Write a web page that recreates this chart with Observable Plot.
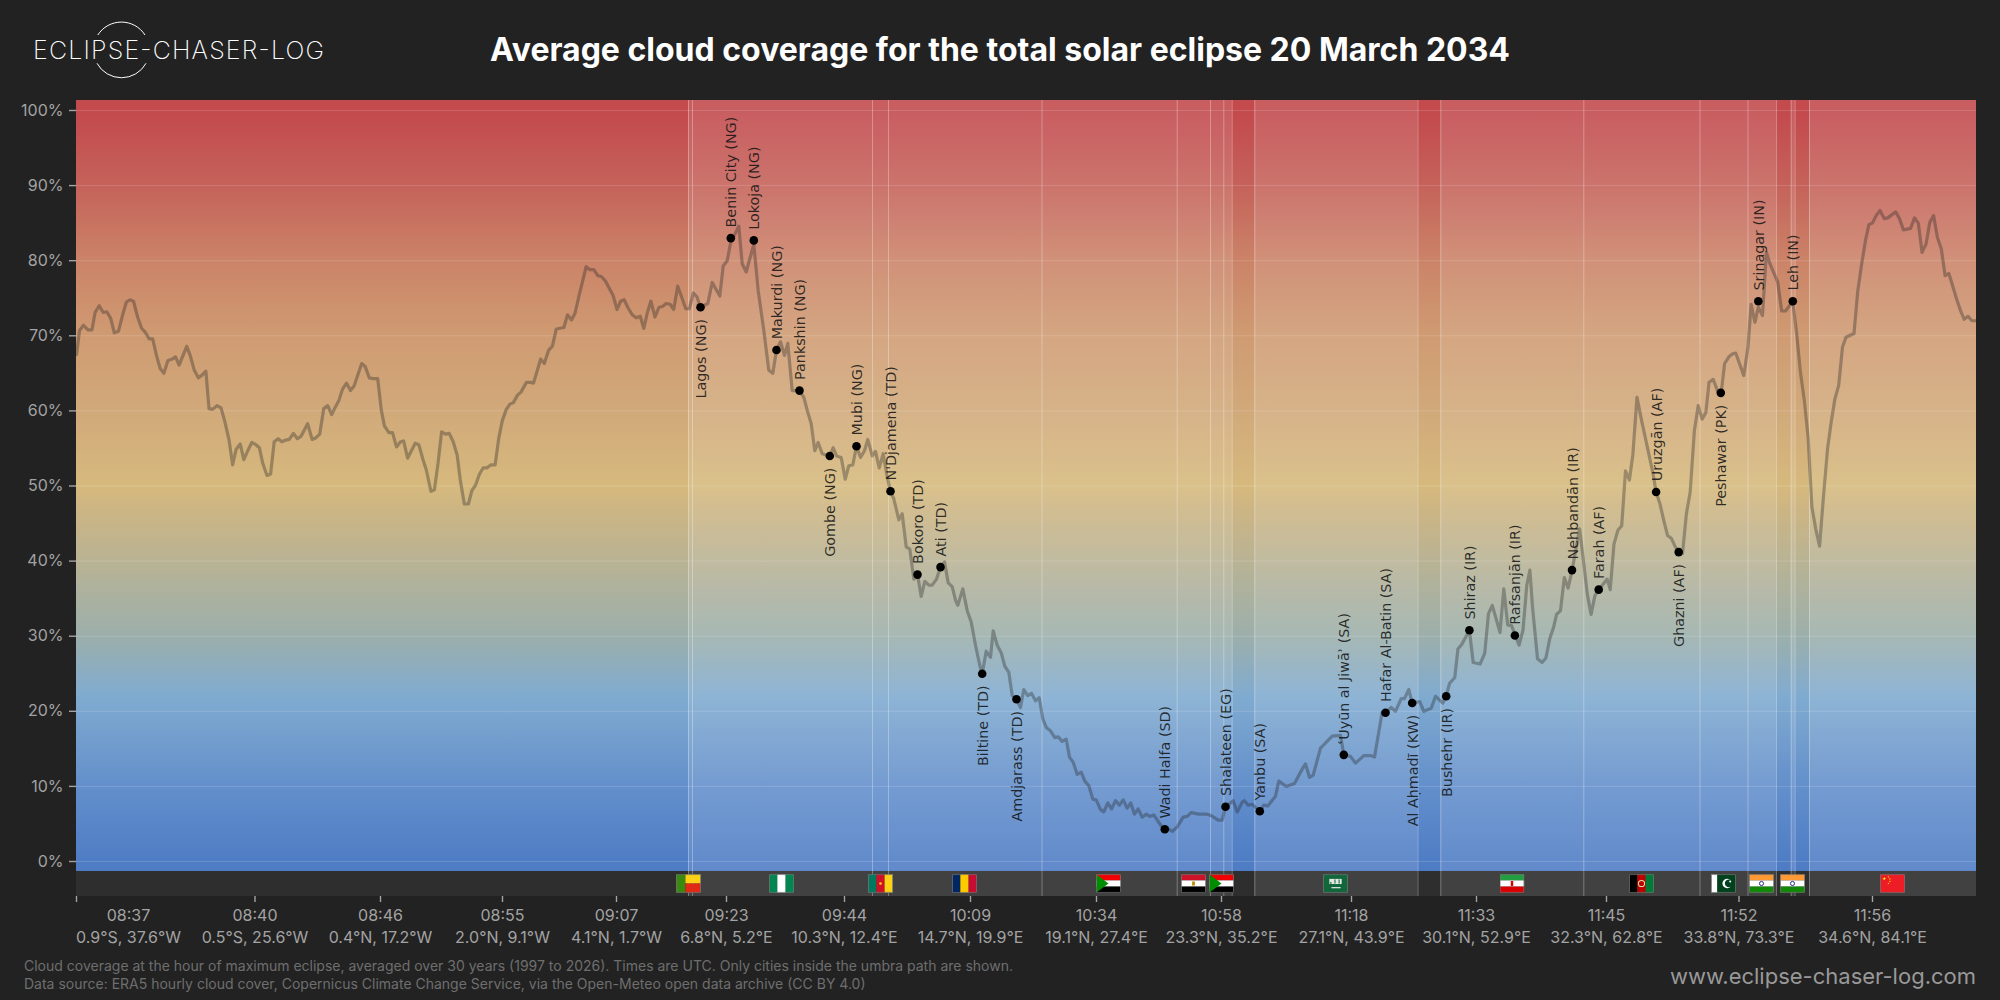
<!DOCTYPE html>
<html>
<head>
<meta charset="utf-8">
<script src="https://cdn.jsdelivr.net/npm/d3@7"></script>
<script src="https://cdn.jsdelivr.net/npm/@observablehq/plot@0.6"></script>
<style>
  html, body { margin: 0; padding: 0; background: #222222; width: 2000px; height: 1000px; overflow: hidden; }
  body { position: relative; font-family: Inter, "Liberation Sans", sans-serif; }
  #header { position: absolute; left: 0; top: 0; width: 2000px; height: 100px; }
  #logo { position: absolute; left: 0; top: 0; }
  h1 { position: absolute; left: 0; top: 0; width: 2000px; margin: 0; line-height: 100px; text-align: center; color: #fff; font-size: 32px; font-weight: 700; }
  #chart { position: absolute; left: 0; top: 100px; }
  #chart svg { display: block; }
  #caption { position: absolute; left: 24px; top: 957px; color: #6e6e6e; font-size: 14px; line-height: 18px; }
  #site { position: absolute; right: 24px; top: 962px; color: #999; font-size: 22px; line-height: 28px; }
</style>
</head>
<body>
<div id="header">
  <svg id="logo" width="400" height="100">
    <path d="M97.8 35 A28 28 0 0 1 145 35 M97 63.3 A28 28 0 0 0 146 63.3" fill="none" stroke="#fff" stroke-width="1"/>
    <text x="33" y="59" fill="#fff" font-family="Inter" font-weight="200" font-size="25" textLength="291" lengthAdjust="spacing">ECLIPSE-CHASER-LOG</text>
  </svg>
  <h1>Average cloud coverage for the total solar eclipse 20 March 2034</h1>
</div>
<div id="chart"></div>
<div id="caption">Cloud coverage at the hour of maximum eclipse, averaged over 30 years (1997 to 2026). Times are UTC. Only cities inside the umbra path are shown.<br>Data source: ERA5 hourly cloud cover, Copernicus Climate Change Service, via the Open-Meteo open data archive (CC BY 4.0)</div>
<div id="site">www.eclipse-chaser-log.com</div>
<script>
// Track position along the eclipse path, and mean cloud cover (%)
const traceAtlantic = [[0,67.5],[3,70.7],[7,71.4],[11.5,70.8],[15.5,70.8],[18.6,73.1],[22.7,74],[26.7,73.1],[30.3,73.2],[34.3,72.3],[37.8,70.4],[41.9,70.6],[46.8,73.1],[49.9,74.5],[53.5,74.8],[57,74.6],[61.1,72.5],[65.1,71],[68.6,70.5],[72.7,69.6],[76.2,69.6],[80.3,67.2],[83.8,65.6],[87.4,65],[91.4,66.7],[95.9,66.9],[99,67.2],[102.6,66.1],[110.2,68.6],[113.7,67.4],[117.8,65.4],[121.8,64.4],[125.8,64.8],[129.4,65.3],[132.5,60.3],[136.1,60.2],[140.5,60.7],[144.5,60.4],[148.1,58.7],[152.6,56.1],[156.1,52.8],[159.7,54.9],[163.7,55.6],[167.3,53.5],[171.3,54.7],[175.3,55.8],[179.4,55.5],[182.9,55.1],[186.1,53.1],[190.5,51.4],[194.1,51.6],[197.7,55.9],[201.7,56.3],[205.3,55.9],[208.8,56.1],[212.8,56.2],[216.9,57],[220.9,56.3],[224.4,56.6],[231.1,58.3],[235.6,56.2],[239.2,56.4],[243.2,56.9],[247.2,60.3],[251.2,60.7],[255.2,59.5],[258.8,60.5],[262.4,61.4],[266,62.9],[270,63.7],[274,62.7],[277.6,63.3],[285.2,66.3],[288.7,65.9],[292.8,64.4],[296.8,64.3],[301.2,64.3],[304.8,60.1],[307.9,58],[312.4,57.1],[316,57.1],[320,55.2],[324,55.9],[327.1,56],[331.1,53.7],[338.7,55.7],[342.3,55.5],[346.3,53.6],[349.9,52.1],[354.4,49.3],[357.9,49.5],[361.5,53],[365.1,57.2],[369.1,56.9],[372.7,57],[376.7,55.9],[380.7,54.1],[383.8,50.8],[387.8,47.6],[391.9,47.6],[395.4,49.4],[399,50.1],[403,51.6],[406.6,52.4],[410.2,52.4],[414.2,52.8],[418.6,52.8],[422.2,56.3],[425.8,58.7],[429.8,60.2],[433.4,60.9],[436.9,61.1],[441,62.1],[444.5,62.5],[449.9,63.8],[453.5,63.8],[457,63.7],[460.6,65.3],[464.2,66.9],[467.8,66.3],[472.2,68.1],[475.8,68.6],[479.8,70.9],[483.4,71],[487.4,71.1],[491,72.8],[495,72.1],[498.5,73],[503,75.6],[509.7,79.2],[513.3,78.8],[517.3,78.8],[521.3,78],[524.9,77.9],[528.9,77.3],[532.9,76.3],[536.5,75.4],[540.5,73.5],[544.1,74.6],[547.7,74.8],[551.2,73.8],[555.7,72.8],[559.7,72.4],[563.7,72.6],[567.3,71],[570.9,73.1],[574.4,74.6],[578.5,72.5],[582.5,73.8],[586,73.9],[589.6,74.3],[593.6,74.2],[597.2,73.5],[601.2,76.6],[605.3,75.1],[609.3,73.6],[612.8,73.6],[616.9,75.7],[620.4,75.2]];
const traceAfrica = [[624,73.8],[631.3,74.3],[635.7,77.1],[643.3,75.3],[646.7,79.3],[650.7,80],[654,82.3],[662.3,84.6],[665.7,79.6],[669.7,78.5],[677.3,82.2],[681.7,76],[687.3,70.7],[692.3,65.4],[696.3,65],[700,68.1],[704,69.2],[708,67.4],[711.3,69],[715.7,62.7],[723,62.7],[727.3,61.8],[731.3,59.8],[734.7,58.3],[738.3,54.7],[741.7,55.8],[745.7,54.3],[753.3,54],[756.7,55.1],[760,54],[764.7,53.8],[768.7,50.9],[772.3,52.7],[776.3,52.8],[780,55.3],[784,53.8],[788,54.7],[791.3,56.2],[795.7,54],[799,54.6],[802.7,52.4],[806.7,54.3],[810.7,51.2],[814,49.3],[817.3,48.3],[822.3,45.5],[825.7,46.3],[829.7,41.9],[833.3,41.6],[837.3,37.6],[841,38.2],[844.7,35.3],[848.3,37.3],[852.3,36.8],[855.7,36.8],[860,37.6],[864,39.2],[868,39.9],[871.7,37.1],[875.7,36.6],[879,34.8]];
const traceArabia = [[881.3,34.1],[886.3,36.3],[890.7,33.4],[894.7,31.9],[899,28.8],[903.3,26.1],[905.7,25],[909.7,28],[914,27.2],[916.7,30.7],[920.7,28.8],[924.7,27.8],[928.3,26],[932.3,25.2],[935.7,22.1],[940,21.6],[944,20.5],[947.3,22.9],[951.3,22.1],[955,22.4],[959,21.4],[962.7,21.8],[966.3,19],[970,17.8],[974,17.4],[978.3,16.5],[981.7,16.6],[985.7,16],[989.7,16.3],[993,13.9],[996.7,13.2],[1000.7,11.6],[1004.7,11.9],[1008.3,10.7],[1012.3,10.1],[1016.3,8.3],[1019.7,8.2],[1024,6.9],[1027.3,6.6],[1031.3,7.8],[1035,7],[1039,8.1],[1043,7.5],[1046.7,8.2],[1050.7,7.1],[1054.3,7.8],[1058,6.3],[1061.7,7],[1065.7,5.9],[1069.7,6.3],[1073.3,6],[1077.3,6.2],[1081.3,5.4],[1087.3,4.3],[1090.7,4.4],[1096,4],[1100.7,4.6],[1106.7,5.9],[1110.7,6],[1114.7,6.5],[1122.3,6.3],[1130.7,6.3],[1134.7,6.1],[1141.7,5.5],[1145.7,5.5],[1149,7.3],[1156.7,8.1],[1160.7,6.6],[1165.7,7.9],[1168,8.1],[1171.7,7.5],[1175.7,7.6],[1183.3,6.7],[1187.3,7.5],[1191.3,7.4],[1199,8.7],[1202.3,10.7],[1209.7,10],[1218,10.4],[1225.7,12.3],[1229,13],[1233,11.2],[1236.7,11.5],[1244,15.1],[1255.7,16.7],[1264,16.8],[1267.3,14.2],[1274,14],[1279,13.1],[1287.3,14.1],[1294,14.1],[1298,13.9],[1305.7,19.9],[1309,19.8],[1314.7,20.5],[1319,20],[1324.7,21.7],[1328,21.7],[1332.3,22.9],[1335.7,21.1],[1343.3,21.3],[1347.3,20],[1354.7,20.4],[1359,22],[1366.3,21.1],[1369.7,22],[1373,23.7]];
const traceAsia = [[1378.3,24.5],[1381.4,28.3],[1385.2,28.9],[1392.9,30.8],[1396.7,26.5],[1403.6,26.3],[1408.2,27.7],[1412,33],[1415.8,34.1],[1423.5,30.5],[1427.3,36.3],[1431.2,31.5],[1435,31.4],[1438.8,30.1],[1442.6,28.8],[1446.5,30.8],[1450.3,36.8],[1453.4,38.8],[1456,33.9],[1461,27],[1465.6,26.5],[1469.4,27.1],[1473.3,29.7],[1477.1,31.2],[1480.1,32.9],[1484,33.4],[1487.8,37.8],[1491.6,36.4],[1495.5,38.7],[1503.1,44.3],[1506.9,40.1],[1510.8,35.6],[1514.6,32.9],[1518.4,35.4],[1522.2,36.2],[1530.7,37.6],[1533.7,36.2],[1537.5,42.3],[1541.4,44.1],[1545.2,44.7],[1549,52],[1552.9,50.8],[1556.3,54.1],[1560.5,61.8],[1565.1,58.7],[1570.8,55.2],[1576.6,51.6],[1579.6,49.2],[1583.5,47.6],[1587.3,45.4],[1591.1,43.4],[1595,43],[1598.8,41.9],[1602.2,41.2],[1606,41],[1609.9,46.3],[1613.7,49.2],[1617.9,57.4],[1621.7,60.7],[1625.6,58.9],[1629.4,59.8],[1632.5,63.8],[1636.7,64.2],[1640.9,62.7],[1644.7,62.4],[1648.1,66.3],[1652.4,67.2],[1656.2,67.6],[1659.2,67.7],[1667.3,64.7],[1671.5,68.5],[1674.6,74.2],[1678.4,71.8],[1681.8,73.8],[1686,72.7],[1689.9,81.1],[1693.7,79.5],[1701.3,77.1],[1705.2,73.3],[1709,73.3],[1716.3,74.6],[1720.1,70.3],[1723.9,65.2],[1727.8,61.4],[1731.6,56.5],[1735.4,47.2],[1739.2,44.3],[1743.1,42],[1746.9,48.5],[1751.1,55],[1754.9,58.7],[1758.4,61.6],[1762.2,63.4],[1766,68.5],[1769.5,69.8],[1777.5,70.3],[1781.3,76],[1785.2,79.6],[1789,82.7],[1792.4,84.8],[1795.9,85],[1799.7,86],[1803.5,86.7],[1807.7,85.6],[1811.2,85.7],[1819.2,86.5],[1823,85.6],[1826.9,84.1],[1834.1,84.3],[1838,85.7],[1841.8,85],[1845.6,81.1],[1849.5,82.2],[1853.3,85.1],[1857.1,86],[1860.9,83.1],[1864.8,81.6],[1868.6,78],[1872.4,78.3],[1880.1,74.9],[1883.9,73.4],[1887.7,72.2],[1891.5,72.6],[1895.4,72],[1900,72]];

const cityNames = ["Lagos (NG)","Benin City (NG)","Lokoja (NG)","Makurdi (NG)","Pankshin (NG)","Gombe (NG)","Mubi (NG)","N'Djamena (TD)","Bokoro (TD)","Ati (TD)","Biltine (TD)","Amdjarass (TD)","Wadi Halfa (SD)","Shalateen (EG)","Yanbu (SA)","ʿUyūn al Jiwāʾ (SA)","Hafar Al-Batin (SA)","Al Aḥmadī (KW)","Bushehr (IR)","Shiraz (IR)","Rafsanjān (IR)","Nehbandān (IR)","Farah (AF)","Uruzgān (AF)","Ghazni (AF)","Peshawar (PK)","Srinagar (IN)","Leh (IN)"];
const cityTrack = [624,654.3,677.3,700,723,753.3,780,814,841,864,905.7,940,1088.3,1149,1183.3,1267.3,1309,1335.7,1369.7,1392.9,1438.4,1495.5,1522.2,1579.6,1602.2,1644.3,1681.8,1716.3];
const cityCover = [73.8,83,82.7,68.1,62.7,54,55.3,49.3,38.2,39.2,25,21.6,4.3,7.3,6.7,14.2,19.8,21.1,22,30.8,30.1,38.8,36.2,49.2,41.2,62.4,74.6,74.6];
const cityBelow = ["Lagos (NG)","Gombe (NG)","Biltine (TD)","Amdjarass (TD)","Al Aḥmadī (KW)","Bushehr (IR)","Ghazni (AF)","Peshawar (PK)"];

const tickTrack = [0,178.5,304,426,540,650,768,894,1020,1145,1275,1400,1530,1662.5,1796];
const tickTimes = ["08:37","08:40","08:46","08:55","09:07","09:23","09:44","10:09","10:34","10:58","11:18","11:33","11:45","11:52","11:56"];
const tickCoords = ["0.9°S, 37.6°W","0.5°S, 25.6°W","0.4°N, 17.2°W","2.0°N, 9.1°W","4.1°N, 1.7°W","6.8°N, 5.2°E","10.3°N, 12.4°E","14.7°N, 19.9°E","19.1°N, 27.4°E","23.3°N, 35.2°E","27.1°N, 43.9°E","30.1°N, 52.9°E","32.3°N, 62.8°E","33.8°N, 73.3°E","34.6°N, 84.1°E"];

const borderTrack = [612,616,796,812,965.5,1100.7,1134,1147.3,1155.7,1178.3,1341.5,1364.3,1507.3,1623.5,1671.5,1700,1714.7,1718.6,1733];
const landSpans = [[612,1155.7],[1178.3,1341.5],[1364.3,1700],[1714.7,1718.6],[1733,1900]];
const flagCodes = ["BJ","NG","CM","TD","SD","EG","SD","SA","IR","AF","PK","IN","IN","CN"];
const flagTrack = [612,705,804,888,1032,1117,1145,1259,1435.5,1565,1647,1685,1716,1816];

const yTicks = [0,10,20,30,40,50,60,70,80,90,100];
const gradientCover = [101.33,99.5,90,80,70,60,50,47,40,30,22,10,0,-1.33];
const gradientColor = ["#c34a4d","#c34a4d","#c5625a","#cb8368","#cf9b72","#d1a97a","#d6b97d","#cdb583","#b9b394","#9cafab","#80abd0","#638fcb","#4f7dc5","#4f7dc5"];

const yMin = -4.66, yMax = 101.33, bandMin = -1.33;

const bar = (x, y, w, h, c) => `<rect x="${x}" y="${y}" width="${w}" height="${h}" fill="${c}"/>`;
const flagArt = {
  BJ: bar(0,0,9,18,"#3a8a0f") + bar(9,0,15,9,"#fcd116") + bar(9,9,15,9,"#e02a16"),
  NG: bar(0,0,8,18,"#008751") + bar(8,0,8,18,"#fff") + bar(16,0,8,18,"#008751"),
  CM: bar(0,0,8,18,"#007a5e") + bar(8,0,8,18,"#ce1126") + bar(16,0,8,18,"#fcd116") + `<circle cx="12" cy="9" r="1.3" fill="#fcd116"/>`,
  TD: bar(0,0,8,18,"#002664") + bar(8,0,8,18,"#fecb00") + bar(16,0,8,18,"#c60c30"),
  SD: bar(0,0,24,6,"#f00000") + bar(0,6,24,6,"#fff") + bar(0,12,24,6,"#000") + `<path d="M0 0L12 9L0 18Z" fill="#008d00"/>`,
  EG: bar(0,0,24,6,"#ce1126") + bar(0,6,24,6,"#fff") + bar(0,12,24,6,"#000") + `<rect x="10.6" y="7" width="2.8" height="4" fill="#c09300"/>`,
  SA: bar(0,0,24,18,"#11663a") + bar(6,4.5,12,5,"#dfe9e2") + bar(7,7.5,1,3,"#11663a") + bar(11,5,1,4,"#11663a") + bar(15,5,1,4,"#11663a") + bar(8,12.6,9,1,"#fff"),
  IR: bar(0,0,24,6,"#239f40") + bar(0,6,24,6,"#fff") + bar(0,12,24,6,"#da0000") + `<rect x="10.8" y="6.6" width="2.4" height="4.8" fill="#da0000"/>`,
  AF: bar(0,0,8,18,"#000") + bar(8,0,8,18,"#be0000") + bar(16,0,8,18,"#007a36") + `<circle cx="12" cy="9" r="3" fill="none" stroke="#e8d9a0" stroke-width="1"/>`,
  PK: bar(0,0,6,18,"#fff") + bar(6,0,18,18,"#01411c") + `<path d="M18.5 5.5A4.6 4.6 0 1 0 19 12A3.7 3.7 0 1 1 18.5 5.5Z" fill="#fff"/><circle cx="18.5" cy="7" r="1" fill="#fff"/>`,
  IN: bar(0,0,24,6,"#ff9933") + bar(0,6,24,6,"#fff") + bar(0,12,24,6,"#138808") + `<circle cx="12" cy="9" r="2" fill="none" stroke="#000080" stroke-width=".8"/>`,
  CN: bar(0,0,24,18,"#ee1c25") + `<path d="M4 2.5L5 5.6L2.2 3.7H5.8L3 5.6Z" fill="#ffff00"/><circle cx="8" cy="2.5" r=".6" fill="#ffff00"/><circle cx="9.5" cy="4.5" r=".6" fill="#ffff00"/><circle cx="9.5" cy="7" r=".6" fill="#ffff00"/><circle cx="8" cy="9" r=".6" fill="#ffff00"/>`
};
const flagSrc = (code) => "data:image/svg+xml," + encodeURIComponent(
  `<svg xmlns="http://www.w3.org/2000/svg" width="96" height="72" viewBox="0 0 24 18">${flagArt[code]}<rect x=".4" y=".4" width="23.2" height="17.2" fill="none" stroke="#777" stroke-width=".8"/></svg>`);

const trace = [...traceAtlantic, ...traceAfrica, ...traceArabia, ...traceAsia];
const cities = cityNames.map((name, i) => ({name, x: cityTrack[i], y: cityCover[i], below: cityBelow.includes(name)}));
const flags = flagCodes.map((code, i) => ({code, x: flagTrack[i]}));

const gradientDefs = () => {
  const defs = d3.create("svg:defs");
  const g = defs.append("linearGradient").attr("id", "cloudGradient").attr("x1", 0).attr("x2", 0).attr("y1", 0).attr("y2", 1);
  gradientCover.forEach((v, i) => g.append("stop")
    .attr("offset", (yMax - v) / (yMax - bandMin))
    .attr("stop-color", gradientColor[i]));
  return defs.node();
};

const labelFont = {fontFamily: "DejaVu Sans", fontSize: 14.3, fill: "#111", fillOpacity: 0.85, rotate: -90, lineAnchor: "middle"};

const chart = Plot.plot({
  width: 2000,
  height: 850,
  marginTop: 0,
  marginLeft: 76,
  marginRight: 24,
  marginBottom: 54,
  style: {background: "transparent", color: "#a3a3a3"},
  x: {domain: [0, 1900]},
  y: {domain: [yMin, yMax]},
  marks: [
    gradientDefs,
    Plot.rect([0], {x1: 0, x2: 1900, y1: bandMin, y2: yMax, fill: "url(#cloudGradient)"}),
    Plot.rect(landSpans, {x1: d => d[0], x2: d => d[1], y1: bandMin, y2: yMax, fill: "#fff", fillOpacity: 0.115}),
    Plot.rect([0], {x1: 0, x2: 1900, y1: yMin, y2: bandMin, fill: "#2e2e2e"}),
    Plot.rect(landSpans, {x1: d => d[0], x2: d => d[1], y1: yMin, y2: bandMin, fill: "#414141"}),
    Plot.ruleY(yTicks, {y: d => d, x1: 0, x2: 1900, stroke: "#fff", strokeOpacity: 0.15, strokeWidth: 1}),
    Plot.ruleX(borderTrack, {x: d => d, y1: yMin, y2: yMax, stroke: "#fff", strokeOpacity: 0.3, strokeWidth: 1}),
    Plot.line(trace, {x: d => d[0], y: d => d[1], stroke: "#222", strokeOpacity: 0.34, strokeWidth: 3.2}),
    Plot.dot(cities, {x: "x", y: "y", r: 4.3, fill: "#000", stroke: "none"}),
    Plot.text(cities.filter(d => !d.below), {x: "x", y: "y", text: "name", textAnchor: "start", dx: 1, dy: -10.7, ...labelFont}),
    Plot.text(cities.filter(d => d.below), {x: "x", y: "y", text: "name", textAnchor: "end", dx: 1, dy: 11.7, ...labelFont}),
    Plot.image(flags, {x: "x", y: () => -2.93, width: 24.7, height: 18.6, src: d => flagSrc(d.code)}),
    Plot.axisY(yTicks, {tickFormat: d => d + "%", tickSize: 7, tickPadding: 6, fontSize: 16, fontVariant: "normal", fontFamily: "Inter", fill: "#a3a3a3", stroke: "#a3a3a3", strokeWidth: 1.4, label: null, marginLeft: 76}),
    Plot.axisX(tickTrack, {tickFormat: (d, i) => i === 0 ? "" : tickTimes[i] + "\n" + tickCoords[i], tickSize: 6, tickPadding: 2.5, fontSize: 16, fontVariant: "normal", lineHeight: 1.375, fontFamily: "Inter", fill: "#a3a3a3", stroke: "#a3a3a3", strokeWidth: 1.4, label: null, marginBottom: 54}),
    Plot.text([0], {x: d => d, y: yMin, dx: 52, dy: 8.5, text: () => tickTimes[0] + "\n" + tickCoords[0], lineAnchor: "top", lineHeight: 1.375, fontSize: 16, fontFamily: "Inter", fill: "#a3a3a3"})
  ]
});
document.getElementById("chart").appendChild(chart);
</script>
</body>
</html>
